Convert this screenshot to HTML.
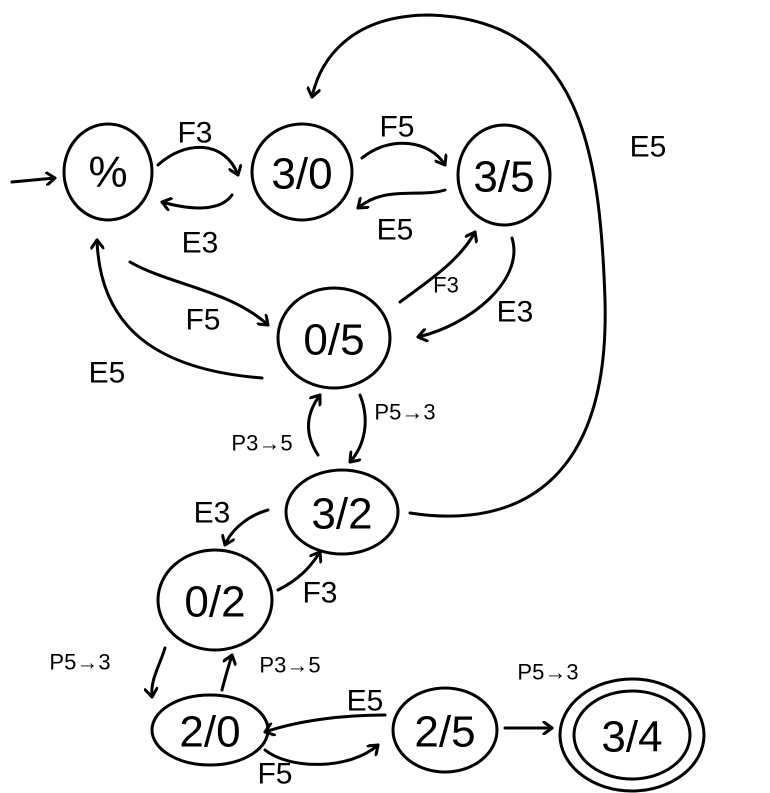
<!DOCTYPE html>
<html><head><meta charset="utf-8"><style>
html,body{margin:0;padding:0;background:#fff;}
svg{display:block}
text{font-family:"Liberation Sans",sans-serif;fill:#000;}
.n{font-size:44px;text-anchor:middle;dominant-baseline:central}
.l{font-size:30px;text-anchor:middle;dominant-baseline:central}
.s{font-size:22px;text-anchor:middle;dominant-baseline:central}
path,ellipse{fill:none;stroke:#000;stroke-width:3;stroke-linecap:round;stroke-linejoin:round}
</style></head><body>
<svg width="770" height="793" viewBox="0 0 770 793" xmlns="http://www.w3.org/2000/svg">
<defs><marker id="a" markerWidth="14" markerHeight="14" refX="10" refY="7" orient="auto" markerUnits="userSpaceOnUse">
<path d="M2,1 L10,7 L2,13" style="stroke-width:3"/></marker></defs>

<ellipse cx="108" cy="172" rx="44" ry="48"/><text class="n" x="108" y="172">%</text>
<ellipse cx="302" cy="172" rx="50" ry="48"/><text class="n" x="302" y="174">3/0</text>
<ellipse cx="504" cy="175" rx="46" ry="50"/><text class="n" x="504" y="177">3/5</text>
<ellipse cx="334" cy="338" rx="56" ry="50"/><text class="n" x="334" y="340">0/5</text>
<ellipse cx="342" cy="512" rx="56" ry="42"/><text class="n" x="342" y="514">3/2</text>
<ellipse cx="215" cy="600" rx="57" ry="50"/><text class="n" x="215" y="602">0/2</text>
<ellipse cx="210" cy="730" rx="58" ry="35"/><text class="n" x="210" y="732">2/0</text>
<ellipse cx="445" cy="730" rx="52" ry="42"/><text class="n" x="445" y="732">2/5</text>
<ellipse cx="632" cy="735" rx="72" ry="56"/><ellipse cx="632" cy="735" rx="58" ry="44"/><text class="n" x="632" y="737">3/4</text>

<path d="M12,182 L55,178" marker-end="url(#a)"/>

<path d="M158,165 C185,140 225,140 238,175" marker-end="url(#a)"/><text class="l" x="195" y="133">F3</text>
<path d="M232,195 C220,212 190,210 162,202" marker-end="url(#a)"/><text class="l" x="200" y="243">E3</text>
<path d="M362,158 C390,135 430,140 445,165" marker-end="url(#a)"/><text class="l" x="397" y="127">F5</text>
<path d="M445,190 C420,198 385,185 358,208" marker-end="url(#a)"/><text class="l" x="395" y="230">E5</text>
<path d="M410,513 C520,530 610,480 605,300 C600,150 580,20 430,15 C350,15 320,60 312,97" marker-end="url(#a)"/><text class="l" x="648" y="147">E5</text>
<path d="M130,262 C170,285 230,290 268,325" marker-end="url(#a)"/><text class="l" x="203" y="320">F5</text>
<path d="M262,378 C160,370 100,330 97,240" marker-end="url(#a)"/><text class="l" x="107" y="373">E5</text>
<path d="M400,302 C430,280 460,260 475,232" marker-end="url(#a)"/><text class="s" x="446" y="285">F3</text>
<path d="M512,238 C525,280 470,325 418,337" marker-end="url(#a)"/><text class="l" x="515" y="312">E3</text>
<path d="M318,455 C305,435 305,415 320,395" marker-end="url(#a)"/><text class="s" x="262" y="443">P3→5</text>
<path d="M360,395 C370,420 365,445 350,462" marker-end="url(#a)"/><text class="s" x="405" y="412">P5→3</text>
<path d="M268,510 C250,515 232,528 225,545" marker-end="url(#a)"/><text class="l" x="212" y="513">E3</text>
<path d="M278,590 C298,580 310,568 320,552" marker-end="url(#a)"/><text class="l" x="320" y="593">F3</text>
<path d="M165,648 C160,665 150,680 152,697" marker-end="url(#a)"/><text class="s" x="80" y="662">P5→3</text>
<path d="M222,690 C225,678 228,668 232,655" marker-end="url(#a)"/><text class="s" x="290" y="665">P3→5</text>
<path d="M385,715 C345,715 300,720 265,732" marker-end="url(#a)"/><text class="l" x="365" y="701">E5</text>
<path d="M265,750 C290,770 350,770 378,745" marker-end="url(#a)"/><text class="l" x="275" y="774">F5</text>
<path d="M505,728 L552,728" marker-end="url(#a)"/><text class="s" x="548" y="672">P5→3</text>
</svg>
</body></html>
